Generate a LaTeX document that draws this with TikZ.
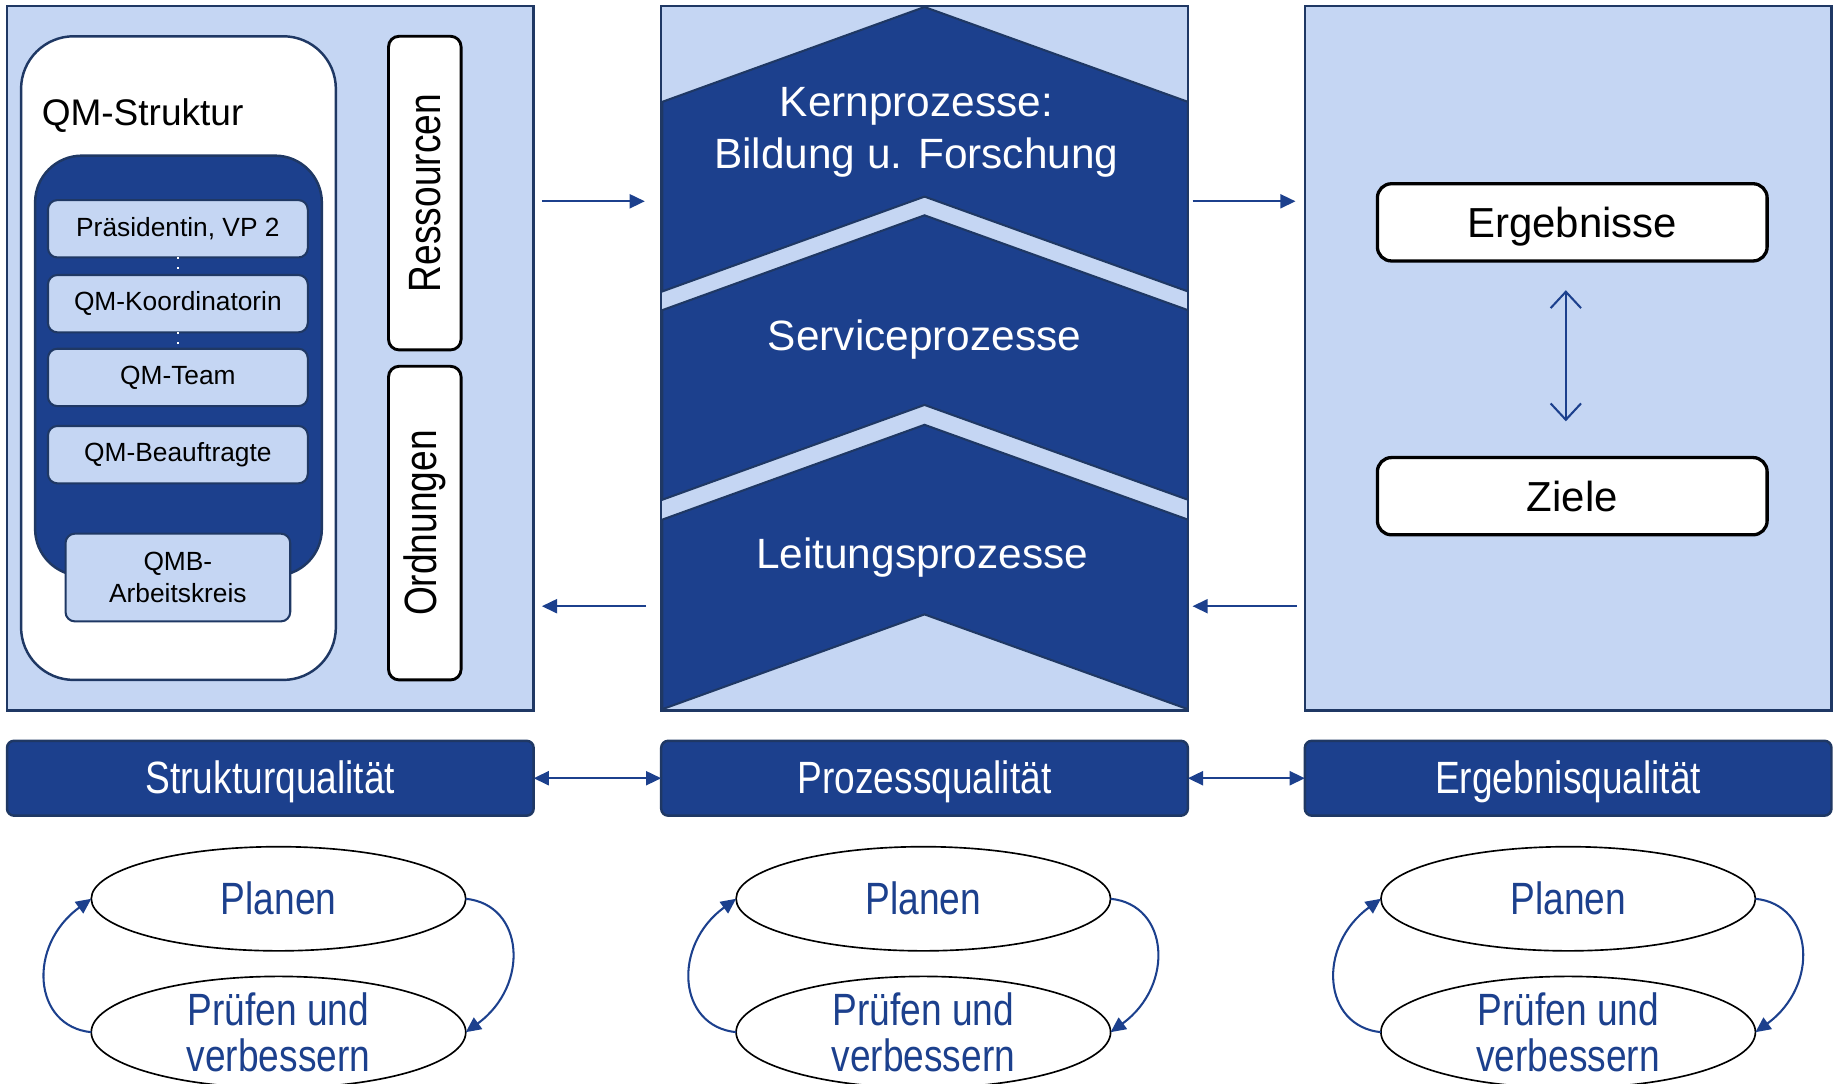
\documentclass[tikz,border=0pt]{standalone}
\usepackage{fontspec}
\setmainfont{Liberation Sans}
\newfontfamily\narrowsf[FakeStretch=0.82]{Liberation Sans}
\usepackage{tikz}
\usetikzlibrary{arrows.meta,positioning,shapes.geometric}
\definecolor{qmdark}{RGB}{28,64,141}
\definecolor{qmlight}{RGB}{197,214,243}
\definecolor{qmline}{RGB}{31,56,100}
\tikzset{
  oneline/.style={text height=0.92em, text depth=0.2em},
  panel/.style={draw=qmline, line width=0.6pt, fill=qmlight, minimum width=45mm, minimum height=60.2mm, inner sep=0pt, outer sep=0pt},
  quality/.style={oneline, rounded corners=0.6mm, draw=qmline, line width=0.6pt, fill=qmdark, text=white, font=\narrowsf\fontsize{11}{13}\selectfont, minimum width=45mm, minimum height=6.4mm, inner sep=0pt, outer sep=0pt},
  rolebox/.style={rounded corners=0.8mm, draw=qmline, line width=0.5pt, fill=qmlight, font=\fontsize{6.4}{7.7}\selectfont, minimum width=22.2mm, minimum height=4.9mm, inner sep=0pt, outer sep=0pt, align=center},
  sidebox/.style={rounded corners=0.9mm, draw=black, line width=0.7pt, fill=white, minimum width=26.8mm, minimum height=6.2mm, rotate=90, font=\narrowsf\fontsize{11}{13}\selectfont, inner sep=0pt, outer sep=0pt},
  resultbox/.style={oneline, rounded corners=1.2mm, draw=black, line width=0.8pt, fill=white, minimum width=33.3mm, minimum height=6.6mm, font=\fontsize{10.2}{12}\selectfont, inner sep=0pt, outer sep=0pt},
  proctext/.style={text=white, font=\fontsize{10.3}{12.5}\selectfont, align=center, inner sep=0pt},
  pdca/.style={ellipse, draw=black, line width=0.4pt, fill=white, minimum width=32mm, minimum height=8.9mm, inner sep=0pt, outer sep=0pt, text=qmdark, font=\narrowsf\fontsize{11}{11.1}\selectfont, align=center},
  flow/.style={-{Triangle[length=1.3mm,width=1.2mm]}, draw=qmdark, line width=0.5pt},
  linkboth/.style={{Triangle[length=1.3mm,width=1.2mm]}-{Triangle[length=1.3mm,width=1.2mm]}, draw=qmdark, line width=0.5pt},
  chevron/.style={fill=qmdark, draw=qmline, line width=0.5pt}
}
\begin{document}
\begin{tikzpicture}[x=0.1mm, y=-0.1mm]
  \useasboundingbox (0,0) rectangle (1568,926);

  % three columns
  \node[panel] (struct) at (231,306) {};
  \node[panel] (proc) at (790,306) {};
  \node[panel] (result) at (1340,306) {};

  \node[quality, below=2.6mm of struct] (qstruct) {Strukturqualität};
  \node[quality, below=2.6mm of proc] (qproc) {Prozessqualität};
  \node[quality, below=2.6mm of result] (qresult) {Ergebnisqualität};
  \draw[linkboth] (qstruct) -- (qproc);
  \draw[linkboth] (qproc) -- (qresult);

  \draw[flow] ([shift={(0.7mm,13.4mm)}]struct.east) -- ([shift={(-1.4mm,13.4mm)}]proc.west);
  \draw[flow] ([shift={(-1.3mm,-21.2mm)}]proc.west) -- ([shift={(0.7mm,-21.2mm)}]struct.east);
  \draw[flow] ([shift={(0.4mm,13.4mm)}]proc.east) -- ([shift={(-0.8mm,13.4mm)}]result.west);
  \draw[flow] ([shift={(-0.7mm,-21.2mm)}]result.west) -- ([shift={(0.4mm,-21.2mm)}]proc.east);

  % QM structure
  \node[draw=qmline, line width=0.6pt, fill=white, rounded corners=4.5mm, minimum width=26.9mm, minimum height=55mm, inner sep=0pt] (qmframe) at (152.5,306) {};
  \node[anchor=west, inner sep=0pt, font=\fontsize{9}{11}\selectfont] (qmtitle) at (35,99) {QM-Struktur};
  \node[fill=qmdark, draw=qmline, line width=0.6pt, rounded corners=4mm, minimum width=24.5mm, minimum height=35.9mm, inner sep=0pt] (qmcore) at (152.5,312.5) {};
  \node[rolebox] (praes) at (152,195.5) {Präsidentin, VP 2};
  \node[rolebox, below=1.5mm of praes] (koord) {QM-Koordinatorin};
  \node[rolebox, below=1.4mm of koord] (team) {QM-Team};
  \node[rolebox, below=1.7mm of team] (beauf) {QM-Beauftragte};
  \node[rolebox, minimum width=19.2mm, minimum height=7.5mm] (qmb) at (152,493.5) {QMB-\\Arbeitskreis};
  \draw[white, dotted, line width=0.4pt] (praes) -- (koord);
  \draw[white, dotted, line width=0.4pt] (koord) -- (team);

  \node[sidebox] (ress) at (363,165) {Ressourcen};
  \node[sidebox] (ordn) at (363,447) {Ordnungen};

  % process chevrons
  \foreach \t in {87,265,444}
    \draw[chevron] (566,\t) -- (790,\t-81) -- (1015,\t) -- (1015,\t+162) -- (790,\t+81) -- (566,\t+162) -- cycle;
  \node[proctext] (kern) at (783,113) {Kernprozesse:\\Bildung u. Forschung};
  \node[proctext] (serv) at (790,290) {Serviceprozesse};
  \node[proctext] (leit) at (788,476) {Leitungsprozesse};

  % results
  \node[resultbox] (ergeb) at (1343.5,190) {Ergebnisse};
  \node[resultbox] (ziele) at (1343.5,424) {Ziele};
  \draw[{Straight Barb[length=1.4mm,width=2.6mm]}-{Straight Barb[length=1.4mm,width=2.6mm]}, qmdark, line width=0.5pt]
    ([shift={(-0.55mm,-2.5mm)}]ergeb.south) -- ([shift={(-0.55mm,3.1mm)}]ziele.north);

  % PDCA loops
  \foreach \x/\n in {238/s, 789/p, 1340/r} {
    \node[pdca] (plan\n) at (\x,768) {Planen};
    \node[pdca] (check\n) at (\x,882) {Prüfen und\\verbessern};
    \draw[flow] (plan\n.east) .. controls +(50,5) and +(55,-40) .. (check\n.east);
    \draw[flow] (check\n.west) .. controls +(-50,-5) and +(-55,40) .. (plan\n.west);
  }
\end{tikzpicture}
\end{document}
